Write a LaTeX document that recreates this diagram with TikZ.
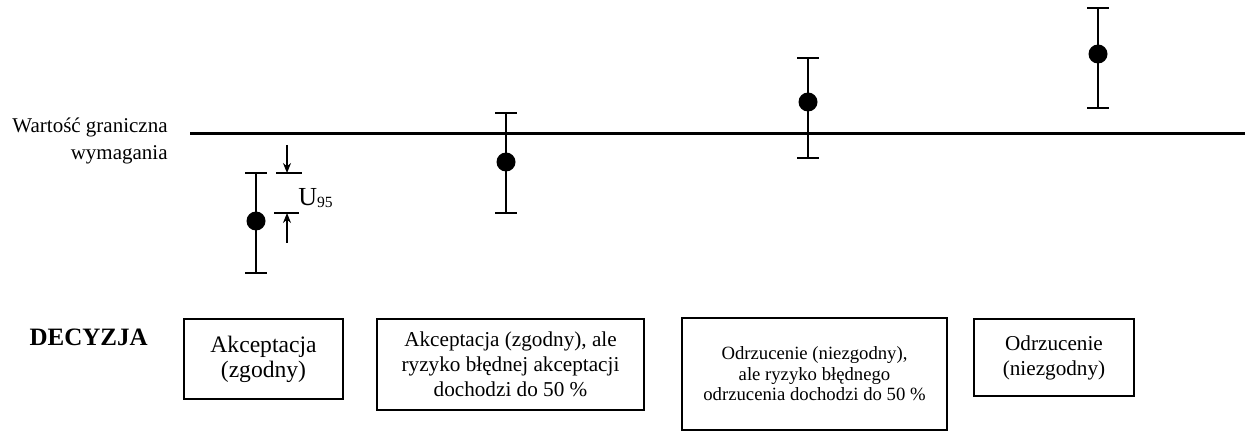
\documentclass[tikz,border=0pt]{standalone}
\usepackage{fontspec}
\setmainfont{Liberation Serif}
\usetikzlibrary{arrows.meta}
\tikzset{
  refline/.style={line width=1.5pt},
  bar/.style={line width=0.6pt},
  dotmark/.style={circle,fill=black,inner sep=0pt,minimum size=9.5pt},
  decbox/.style={draw,line width=0.8pt,rectangle,inner sep=0pt,align=center},
  dimarrow/.style={line width=0.6pt,-{Stealth[length=5pt,width=4pt]}},
}
\begin{document}
\begin{tikzpicture}[x=0.5pt,y=-0.5pt]
\useasboundingbox (0,0) rectangle (1245,432);
% reference line
\coordinate (l0) at (190,134);
\coordinate (l1) at (1245,134);
\draw[refline] (l0) -- (l1);
\node[anchor=east,inner sep=0pt,align=right,font=\fontsize{10.5}{13.5}\selectfont] (lab) at (168,141) {Wartość graniczna\\wymagania};
% error bars
\foreach \n/\x/\y/\t/\b in {1/256/221/173/273, 2/506/162/113/213, 3/808/102/58/158, 4/1098/54/8/108}{
  \coordinate (t\n) at (\x,\t);
  \coordinate (b\n) at (\x,\b);
  \draw[bar] (t\n) -- (b\n);
  \draw[bar] ([xshift=-5.5pt]t\n) -- ([xshift=5.5pt]t\n);
  \draw[bar] ([xshift=-5.5pt]b\n) -- ([xshift=5.5pt]b\n);
  \node[dotmark] (p\n) at (\x,\y) {};
}
% U95 dimension
\coordinate (ua) at (276,173);
\coordinate (ub) at (302,173);
\coordinate (uc) at (274,213);
\coordinate (ud) at (299,213);
\coordinate (uat) at (287,145);
\coordinate (uatip) at (287,173);
\coordinate (ubt) at (287,243);
\coordinate (ubtip) at (287,213);
\draw[bar] (ua) -- (ub);
\draw[bar] (uc) -- (ud);
\draw[dimarrow] (uat) -- (uatip);
\draw[dimarrow] (ubt) -- (ubtip);
\node[anchor=base west,inner sep=0pt] (u95) at (298,206) {\fontsize{13}{15}\selectfont U\raisebox{-1pt}{\fontsize{7.8}{9}\selectfont 95}};
% decision
\node[anchor=base east,inner sep=0pt,font=\fontsize{12.5}{14}\selectfont\bfseries] (dec) at (148,345) {DECYZJA};
\node[decbox,minimum width=79.5pt,minimum height=40pt,font=\fontsize{11.8}{12.5}\selectfont] (d1) at (263.5,359) {Akceptacja\\(zgodny)};
\node[decbox,minimum width=133.5pt,minimum height=45.5pt,font=\fontsize{10.6}{12.5}\selectfont] (d2) at (510.5,364.5) {Akceptacja (zgodny), ale\\ryzyko błędnej akceptacji\\dochodzi do 50 \%};
\node[decbox,minimum width=132.5pt,minimum height=56pt,font=\fontsize{9.35}{10.25}\selectfont] (d3) at (814.5,374) {Odrzucenie (niezgodny),\\ale ryzyko błędnego\\odrzucenia dochodzi do 50 \%};
\node[decbox,minimum width=80pt,minimum height=38.5pt,font=\fontsize{10.6}{12.5}\selectfont] (d4) at (1054,357.5) {Odrzucenie\\(niezgodny)};
\end{tikzpicture}
\end{document}
